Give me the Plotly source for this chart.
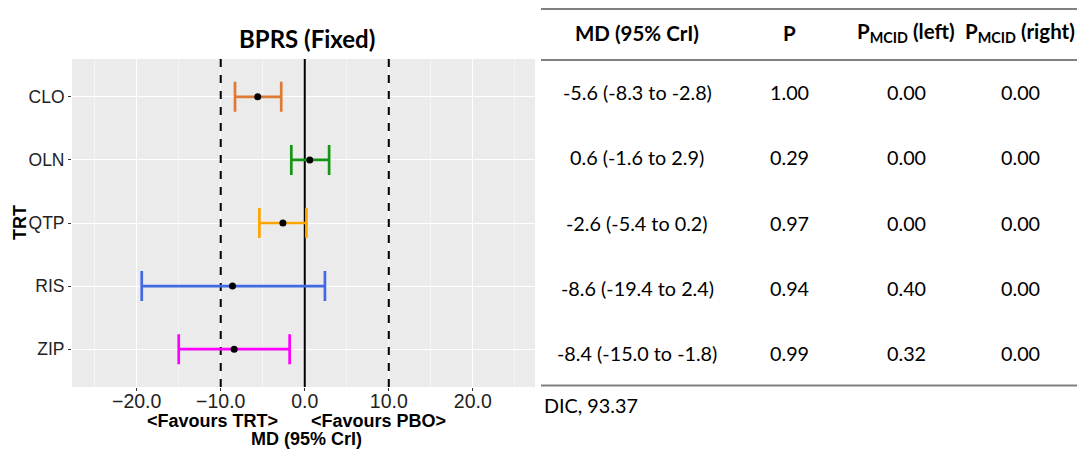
import plotly.graph_objects as go

# ---- data ----
treatments = ["CLO", "OLN", "QTP", "RIS", "ZIP"]
md_mean = [-5.6, 0.6, -2.6, -8.6, -8.4]
md_lower = [-8.3, -1.6, -5.4, -19.4, -15.0]
md_upper = [-2.8, 2.9, 0.2, 2.4, -1.8]
prob_p = [1.00, 0.29, 0.97, 0.94, 0.99]
pmcid_left = [0.00, 0.00, 0.00, 0.40, 0.32]
pmcid_right = [0.00, 0.00, 0.00, 0.00, 0.00]
bar_colors = ["#DF7A36", "#169416", "#FFA500", "#4169E1", "#FF00FF"]
mcid = 10
dic_value = 93.37
x_ticks = [-20, -10, 0, 10, 20]

W, H = 1080, 452
n = len(treatments)
y_pos = [n - i for i in range(n)]  # CLO at top
y_lo, y_hi = 0.4, n + 0.6


def px(x):
    return x / W


def py(y):
    return 1 - y / H


fig = go.Figure()

# reference lines (drawn first, under the error bars)
for xv, dash in [(-mcid, "8px,8px"), (mcid, "8px,8px"), (0, "solid")]:
    fig.add_trace(go.Scatter(x=[xv, xv], y=[y_lo, y_hi], mode="lines",
                             line=dict(color="black", width=2, dash=dash),
                             showlegend=False, hoverinfo="skip", cliponaxis=True))

for yp, m, lo, hi, c in zip(y_pos, md_mean, md_lower, md_upper, bar_colors):
    fig.add_trace(go.Scatter(
        x=[m], y=[yp], mode="markers",
        marker=dict(color="black", size=7),
        error_x=dict(type="data", symmetric=False, array=[hi - m], arrayminus=[m - lo],
                     color=c, thickness=2.7, width=15),
        showlegend=False, hoverinfo="skip",
    ))

fig.update_layout(
    width=W, height=H,
    margin=dict(l=0, r=0, t=0, b=0),
    paper_bgcolor="white",
    plot_bgcolor="#EBEBEB",
    showlegend=False,
    xaxis=dict(
        domain=[px(72), px(535)],
        range=[-27.7, 27.4],
        tickvals=x_ticks,
        tickformat=".1f",
        showgrid=True, gridcolor="white", gridwidth=1.3,
        minor=dict(tickvals=[-25, -15, -5, 5, 15, 25], showgrid=True, gridcolor="#F5F5F5",
                   gridwidth=0.7, ticks=""),
        zeroline=False,
        ticks="outside", ticklen=3, tickcolor="#333333", tickwidth=1,
        ticklabelstandoff=-6,
        tickfont=dict(family="Liberation Sans, Arial", size=19.5, color="#222222"),
        showline=False,
        fixedrange=True,
    ),
    yaxis=dict(
        domain=[py(387), py(59)],
        range=[y_lo, y_hi],
        tickvals=y_pos,
        ticktext=treatments,
        showgrid=True, gridcolor="white", gridwidth=1.3,
        zeroline=False,
        ticks="outside", ticklen=3, tickcolor="#333333", tickwidth=1,
        tickfont=dict(family="Liberation Sans, Arial", size=17.5, color="#222222"),
        fixedrange=True,
    ),
)

annotations = []
# chart title
annotations.append(dict(text="<b>BPRS (Fixed)</b>", x=px(307), y=py(38), xref="paper", yref="paper",
                        showarrow=False, font=dict(family="Lato", size=24, color="black"),
                        xanchor="center", yanchor="middle"))
# y title
annotations.append(dict(text="<b>TRT</b>", x=px(20), y=py(223), xref="paper", yref="paper",
                        showarrow=False, textangle=-90,
                        font=dict(family="Liberation Sans, Arial", size=18, color="black"),
                        xanchor="center", yanchor="middle"))
# x titles
arial_b = dict(family="Liberation Sans, Arial", size=18, color="black")
annotations.append(dict(text="<b>&lt;Favours TRT&gt;</b>", x=px(212), y=py(421), xref="paper", yref="paper",
                        showarrow=False, font=arial_b, xanchor="center", yanchor="middle"))
annotations.append(dict(text="<b>&lt;Favours PBO&gt;</b>", x=px(378), y=py(421), xref="paper", yref="paper",
                        showarrow=False, font=arial_b, xanchor="center", yanchor="middle"))
annotations.append(dict(text="<b>MD (95% CrI)</b>", x=px(306), y=py(439), xref="paper", yref="paper",
                        showarrow=False, font=arial_b, xanchor="center", yanchor="middle"))

# ---- table ----
col_x = [637, 789, 906, 1020]
headers = ["<b>MD (95% CrI)</b>", "<b>P</b>", "<b>P<sub>MCID</sub> (left)</b>", "<b>P<sub>MCID</sub> (right)</b>"]
hfont = dict(family="Lato", size=20.5, color="black")
tfont = dict(family="Lato", size=19.8, color="black")
for cx, h in zip(col_x, headers):
    annotations.append(dict(text=h, x=px(cx), y=py(33), xref="paper", yref="paper",
                            showarrow=False, font=hfont, xanchor="center", yanchor="middle"))

row_y = [92, 157.3, 222.5, 287.8, 353]
for i, t in enumerate(treatments):
    cells = [
        f"{md_mean[i]:.1f} ({md_lower[i]:.1f} to {md_upper[i]:.1f})",
        f"{prob_p[i]:.2f}",
        f"{pmcid_left[i]:.2f}",
        f"{pmcid_right[i]:.2f}",
    ]
    for cx, txt in zip(col_x, cells):
        annotations.append(dict(text=txt, x=px(cx), y=py(row_y[i]), xref="paper", yref="paper",
                                showarrow=False, font=tfont, xanchor="center", yanchor="middle"))

annotations.append(dict(text=f"DIC, {dic_value:.2f}", x=px(542), y=py(405), xref="paper", yref="paper",
                        showarrow=False, font=tfont, xanchor="left", yanchor="middle"))

fig.update_layout(annotations=annotations)

for yy in [9, 60, 385.5]:
    fig.add_shape(type="line", xref="paper", yref="paper", x0=px(541), x1=px(1077),
                  y0=py(yy), y1=py(yy), line=dict(color="#808080", width=2))

fig.write_html("out.html", config={"displayModeBar": False},
               post_script="document.body.style.margin='0';document.body.style.padding='0';")
